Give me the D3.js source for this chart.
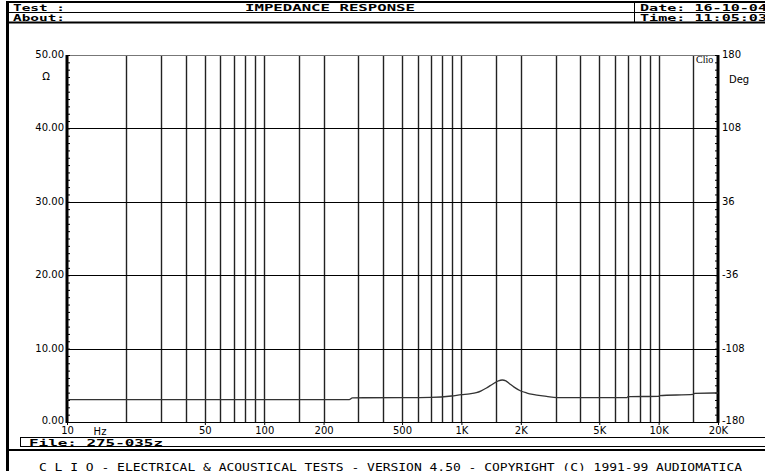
<!DOCTYPE html>
<html lang="en">
<head>
<meta charset="UTF-8">
<title>Impedance response</title>
<script src="https://cdn.jsdelivr.net/npm/d3@7"></script>
<style>
  body { margin: 0; background: #fff; }
  svg text { fill: #000; }
</style>
</head>
<body>
<div id="grafica"></div>
<script>
// impedance readings (Hz, ohm) taken off the plot
freqs = [10, 270, 280, 500, 700, 890, 1000, 1100, 1190, 1260, 1340, 1400, 1470, 1540, 1610, 1680, 1760, 1850, 2000, 2150, 2300, 2700, 3050, 6900, 7000, 10000, 10100, 15000, 15200, 19000, 20000]
ohms  = [3.04, 3.04, 3.3, 3.32, 3.36, 3.54, 3.72, 3.83, 3.99, 4.25, 4.63, 4.95, 5.31, 5.6, 5.72, 5.6, 5.18, 4.75, 4.22, 3.95, 3.76, 3.49, 3.31, 3.31, 3.45, 3.5, 3.6, 3.76, 3.9, 3.95, 3.95]

gridFreqs = [20, 30, 40, 50, 60, 70, 80, 90, 100, 150, 200, 300, 400, 500, 600, 700, 800, 900,
             1000, 1500, 2000, 3000, 4000, 5000, 6000, 7000, 8000, 9000, 10000, 15000]
freqTicks = [10, 50, 100, 200, 500, 1000, 2000, 5000, 10000, 20000]
freqLabels = ['10', '50', '100', '200', '500', '1K', '2K', '5K', '10K', '20K']
ohmTicks = [0, 10, 20, 30, 40, 50]
degTicks = [-180, -108, -36, 36, 108, 180]

W = 765, H = 471
svg = d3.select('#grafica').append('svg')
  .attr('width', W).attr('height', H)

x = d3.scaleLog().domain([10, 20000]).range([67, 718])
y = d3.scaleLinear().domain([0, 50]).range([422, 55])
yd = d3.scaleLinear().domain([-180, 180]).range([422, 55])

mono = 'DejaVu Sans Mono'
sans = 'DejaVu Sans'

// ---- header frame
svg.append('line').attr('x1', 6).attr('x2', W).attr('y1', 2).attr('y2', 2)
  .attr('stroke', '#000').attr('stroke-width', 2)
svg.append('line').attr('x1', 6).attr('x2', W).attr('y1', 12.5).attr('y2', 12.5)
  .attr('stroke', '#000').attr('stroke-width', 1)
svg.append('line').attr('x1', 6).attr('x2', W).attr('y1', 22.5).attr('y2', 22.5)
  .attr('stroke', '#000').attr('stroke-width', 2)
svg.append('line').attr('x1', 634.5).attr('x2', 634.5).attr('y1', 2).attr('y2', 22)
  .attr('stroke', '#000').attr('stroke-width', 1)
svg.append('line').attr('x1', 7.5).attr('x2', 7.5).attr('y1', 1).attr('y2', H)
  .attr('stroke', '#000').attr('stroke-width', 3)

function htxt(t, xx, yy, anchor, len, size) {
  var s = svg.append('text').attr('x', xx).attr('y', yy)
    .attr('font-family', mono).attr('font-weight', 'bold').attr('font-size', size || 9.5)
    .attr('text-anchor', anchor || 'start').text(t)
  if (len) s.attr('textLength', len).attr('lengthAdjust', 'spacingAndGlyphs')
  return s
}
htxt('Test :', 13, 11, 'start', 52)
htxt('About:', 13, 21, 'start', 52)
htxt('IMPEDANCE RESPONSE', 330, 11, 'middle', 170)
htxt('Date: 16-10-04', 640, 11, 'start', 127)
htxt('Time: 11:05:03', 640, 21, 'start', 127)

// ---- grid
svg.selectAll('.vg').data(gridFreqs).enter().append('line')
  .attr('x1', d => Math.round(x(d)) + 0.5).attr('x2', d => Math.round(x(d)) + 0.5)
  .attr('y1', y(50)).attr('y2', y(0))
  .attr('stroke', '#222').attr('stroke-width', 1.4)

svg.selectAll('.hg').data([10, 20, 30, 40]).enter().append('line')
  .attr('x1', x(10)).attr('x2', x(20000))
  .attr('y1', d => Math.round(y(d)) + 0.5).attr('y2', d => Math.round(y(d)) + 0.5)
  .attr('stroke', '#000').attr('stroke-width', 1)
svg.append('line').attr('x1', x(10)).attr('x2', x(20000))
  .attr('y1', y(50) + 0.5).attr('y2', y(50) + 0.5)
  .attr('stroke', '#777').attr('stroke-width', 1)
svg.append('line').attr('x1', x(10)).attr('x2', x(20000))
  .attr('y1', y(0) + 0.5).attr('y2', y(0) + 0.5)
  .attr('stroke', '#000').attr('stroke-width', 1)

// ---- axes
yAxis = d3.axisRight(y).ticks(50).tickSize(3).tickFormat('')
gl = svg.append('g').attr('transform', 'translate(' + x(10) + ',0)').call(yAxis)
gl.select('.domain').remove()
gl.selectAll('line').attr('stroke', '#000')
svg.append('line').attr('x1', x(10)).attr('x2', x(10)).attr('y1', y(50)).attr('y2', y(0) + 1)
  .attr('stroke', '#000').attr('stroke-width', 3)

dAxis = d3.axisLeft(yd).tickValues(d3.range(-180, 181, 7.2)).tickSize(3).tickFormat('')
gr = svg.append('g').attr('transform', 'translate(' + x(20000) + ',0)').call(dAxis)
gr.select('.domain').remove()
gr.selectAll('line').attr('stroke', '#000')
svg.append('line').attr('x1', x(20000)).attr('x2', x(20000)).attr('y1', y(50)).attr('y2', y(0) + 1)
  .attr('stroke', '#000').attr('stroke-width', 3)

xAxis = d3.axisBottom(x).tickValues(freqTicks).tickSize(3).tickPadding(2)
  .tickFormat((d, i) => freqLabels[i])
gx = svg.append('g').attr('transform', 'translate(0,' + y(0) + ')').call(xAxis)
gx.select('.domain').remove()
gx.selectAll('line').attr('stroke', '#000')
gx.selectAll('text').attr('font-family', sans).attr('font-size', 10)
svg.append('text').attr('x', 100).attr('y', 434.5).attr('font-family', sans).attr('font-size', 10)
  .attr('text-anchor', 'middle').text('Hz')

svg.selectAll('.ol').data(ohmTicks).enter().append('text')
  .attr('x', 64).attr('y', d => y(d) + (d === 0 ? 2 : 3))
  .attr('text-anchor', 'end').attr('font-family', sans).attr('font-size', 10)
  .text(d => d.toFixed(2))
svg.append('text').attr('x', 46).attr('y', 80).attr('text-anchor', 'middle')
  .attr('font-family', sans).attr('font-size', 10).text('Ω')

svg.selectAll('.dl').data(degTicks).enter().append('text')
  .attr('x', 722).attr('y', d => yd(d) + (d === -180 ? 2 : 3))
  .attr('font-family', sans).attr('font-size', 10)
  .text(d => d)
svg.append('text').attr('x', 729).attr('y', 83)
  .attr('font-family', sans).attr('font-size', 10).text('Deg')
svg.append('text').attr('x', 696).attr('y', 63)
  .attr('font-family', 'Liberation Serif').attr('font-size', 10).text('Clio')

// ---- impedance curve
pts = freqs.map((f, i) => [f, ohms[i]])
svg.append('path').datum(pts)
  .attr('d', d3.line().x(d => x(d[0])).y(d => y(d[1])).curve(d3.curveMonotoneX))
  .attr('fill', 'none').attr('stroke', '#333').attr('stroke-width', 1.3)

// ---- footer
svg.append('rect').attr('x', 20.5).attr('y', 437.5).attr('width', 760).attr('height', 9)
  .attr('fill', 'none').attr('stroke', '#000').attr('stroke-width', 1)
htxt('File: 275-035z', 29, 445.5, 'start', 134)
svg.append('line').attr('x1', 6).attr('x2', W).attr('y1', 450).attr('y2', 450)
  .attr('stroke', '#000').attr('stroke-width', 2)
svg.append('text').attr('x', 39).attr('y', 471)
  .attr('font-family', mono).attr('font-size', 11)
  .attr('textLength', 703).attr('lengthAdjust', 'spacingAndGlyphs')
  .text('C L I O  -  ELECTRICAL & ACOUSTICAL TESTS  -  VERSION 4.50  -  COPYRIGHT (C) 1991-99 AUDIOMATICA')
</script>
</body>
</html>
